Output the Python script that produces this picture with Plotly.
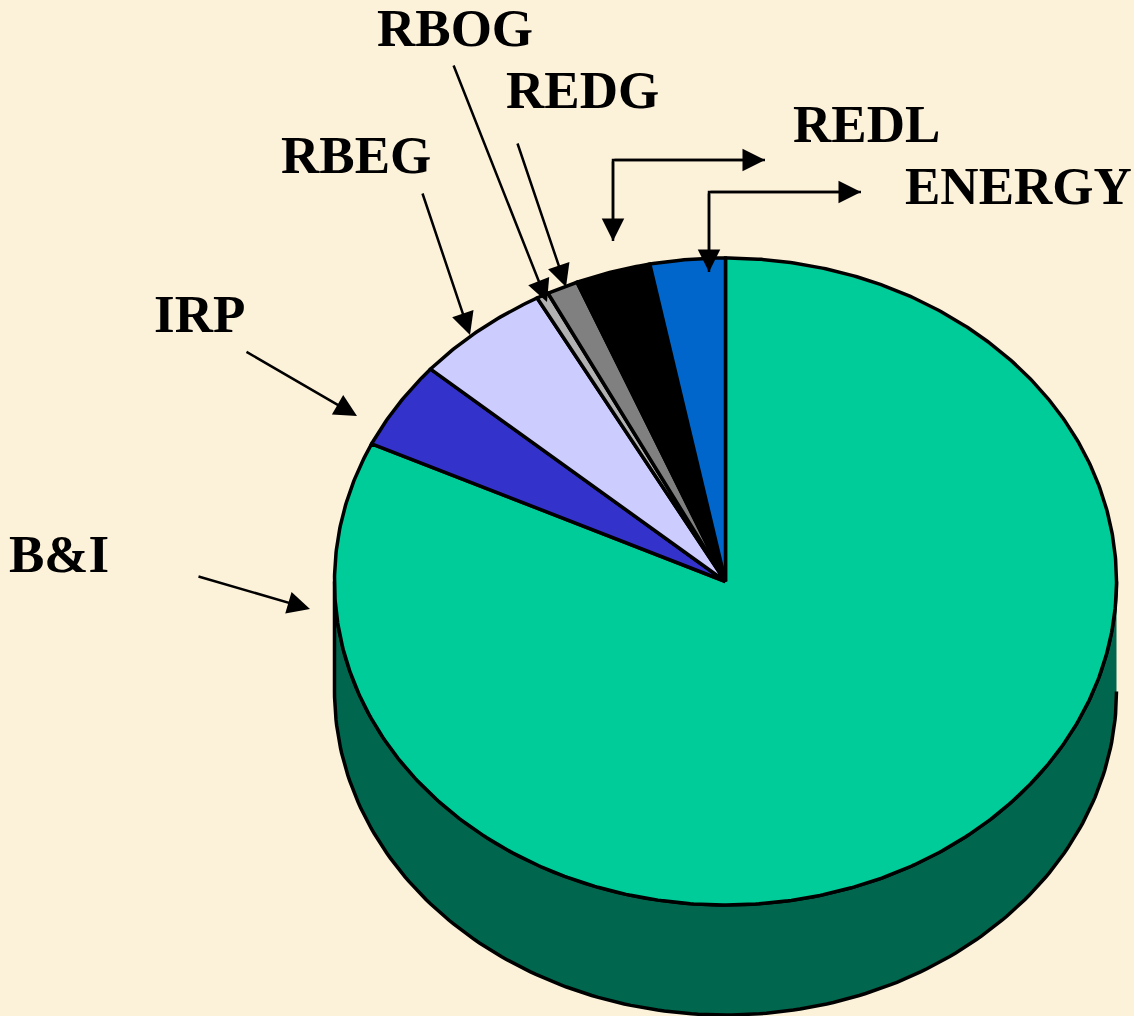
import numpy as np
import plotly.graph_objects as go

categories = ["B&I", "IRP", "RBEG", "RBOG", "REDG", "REDL", "ENERGY"]
shares = [82.0, 4.4, 5.6, 0.5, 1.3, 3.1, 3.1]
colors = ["#00CC99", "#3333CC", "#CCCCFF", "#B2B2B2", "#808080", "#000000", "#0066CC"]
wall_color = "#00664D"
bg = "#FCF1D9"

label_x = [59, 199, 356, 455, 582, 866, 1018]
label_y = [554, 314, 155, 28, 90, 124, 186]

straight_arrows = [
    (197, 576, 310, 609),
    (245, 351, 357, 416),
    (422, 192, 470, 335),
    (453, 64, 547, 302),
    (517, 142, 566, 287),
]
elbow_arrows = [
    ((613, 160), (613, 241), (765, 160)),
    ((709, 192), (709, 272), (861, 192)),
]

cx, cy, rx, ry, depth = 725.5, 581.5, 391, 323.5, 110

fig = go.Figure()

# side wall
th = np.radians(np.linspace(0, 180, 181))
wx = cx + rx * np.cos(th)
wy = cy + depth + ry * np.sin(th)
wx = np.concatenate([wx, cx + rx * np.cos(th[::-1])])
wy = np.concatenate([wy, cy + ry * np.sin(th[::-1])])
fig.add_trace(go.Scatter(x=wx, y=wy, mode="lines", fill="toself", fillcolor=wall_color,
                         line=dict(color="black", width=3.5), hoverinfo="skip"))

# top wedges, clockwise from 12 o'clock
edges = np.concatenate([[0], np.cumsum(shares)]) / sum(shares) * 2 * np.pi
for i, name in enumerate(categories):
    t = np.linspace(edges[i], edges[i + 1], max(3, int((edges[i + 1] - edges[i]) * 120)))
    x = np.concatenate([[cx], cx + rx * np.sin(t), [cx]])
    y = np.concatenate([[cy], cy - ry * np.cos(t), [cy]])
    fig.add_trace(go.Scatter(x=x, y=y, mode="lines", fill="toself", fillcolor=colors[i],
                             name=name, line=dict(color="black", width=3.5)))

# elbow connector shafts
for corner, end_a, end_b in elbow_arrows:
    fig.add_trace(go.Scatter(x=[end_a[0], corner[0], end_b[0]], y=[end_a[1], corner[1], end_b[1]],
                             mode="lines", line=dict(color="black", width=2.5), hoverinfo="skip"))
    for e in (end_a, end_b):
        fig.add_annotation(x=e[0], y=e[1], ax=corner[0], ay=corner[1], xref="x", yref="y",
                           axref="x", ayref="y", text="", showarrow=True, arrowhead=2,
                           arrowsize=1.8, arrowwidth=2.5, arrowcolor="black")

for x0, y0, x1, y1 in straight_arrows:
    fig.add_annotation(x=x1, y=y1, ax=x0, ay=y0, xref="x", yref="y", axref="x", ayref="y",
                       text="", showarrow=True, arrowhead=2, arrowsize=1.8, arrowwidth=2.5,
                       arrowcolor="black")

for name, x, y in zip(categories, label_x, label_y):
    fig.add_annotation(x=x, y=y, xref="x", yref="y", text=f"<b>{name}</b>", showarrow=False,
                       xanchor="center", yanchor="middle",
                       font=dict(family="Liberation Serif", size=53, color="black"))

fig.update_layout(
    width=1134, height=1016, margin=dict(l=0, r=0, t=0, b=0),
    paper_bgcolor=bg, plot_bgcolor=bg, showlegend=False,
    xaxis=dict(range=[0, 1134], visible=False, fixedrange=True),
    yaxis=dict(range=[1016, 0], visible=False, fixedrange=True),
)
fig.write_html("out.html", post_script="document.body.style.margin='0';document.body.style.background='%s';" % bg,
               config={"displayModeBar": False})
